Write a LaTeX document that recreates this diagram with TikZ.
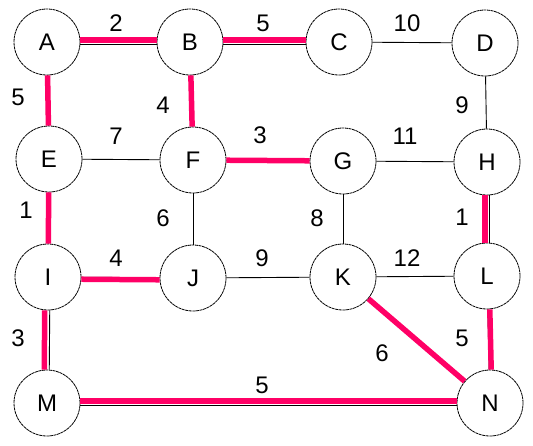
\documentclass[tikz,border=0pt]{standalone}
\usepackage{fontspec}
\setmainfont{Liberation Sans}
\definecolor{mstpink}{RGB}{255,0,102}
\tikzset{
  vertex/.style={circle,draw=black,line width=0.8pt,dash pattern=on 3pt off 0.6pt,
    minimum size=66pt,inner sep=0pt,font=\fontsize{24}{28}\selectfont},
  wt/.style={inner sep=0pt,font=\fontsize{24}{28}\selectfont},
  edge/.style={draw=black,line width=0.9pt},
  mst/.style={draw=mstpink,line width=5.5pt}
}
\begin{document}
\begin{tikzpicture}[x=1pt,y=-1pt,line cap=butt]
  \useasboundingbox (0,0) rectangle (533,445);
  % vertices
  \node[vertex] (A) at (47,42) {A};
  \node[vertex] (B) at (190,42) {B};
  \node[vertex] (C) at (339,42) {C};
  \node[vertex] (D) at (485,43) {D};
  \node[vertex] (E) at (49,159) {E};
  \node[vertex] (F) at (193,160) {F};
  \node[vertex] (G) at (343,161) {G};
  \node[vertex] (H) at (487,162) {H};
  \node[vertex] (I) at (48,277) {I};
  \node[vertex] (J) at (193,278) {J};
  \node[vertex] (K) at (343,277) {K};
  \node[vertex] (L) at (487,276) {L};
  \node[vertex] (M) at (47,403) {M};
  \node[vertex] (N) at (490,403) {N};
  % all edges
  \draw[edge,transform canvas={yshift=-2pt}] (A) -- (B);
  \draw[edge,transform canvas={yshift=-2pt}] (B) -- (C);
  \draw[edge] (C) -- (D);
  \draw[edge] (A) -- (E);
  \draw[edge] (B) -- (F);
  \draw[edge] (D) -- (H);
  \draw[edge] (E) -- (F);
  \draw[edge] (F) -- (G);
  \draw[edge] (G) -- (H);
  \draw[edge] (E) -- (I);
  \draw[edge] (F) -- (J);
  \draw[edge] (G) -- (K);
  \draw[edge,transform canvas={xshift=2pt}] (H) -- (L);
  \draw[edge] (I) -- (J);
  \draw[edge] (J) -- (K);
  \draw[edge] (K) -- (L);
  \draw[edge,transform canvas={xshift=2pt}] (I) -- (M);
  \draw[edge] (K) -- (N);
  \draw[edge] (L) -- (N);
  \draw[edge,transform canvas={yshift=-2pt}] (M) -- (N);
  % spanning tree
  \draw[mst,transform canvas={yshift=2pt}] (A) -- (B);
  \draw[mst,transform canvas={yshift=2pt}] (B) -- (C);
  \draw[mst] (A) -- (E);
  \draw[mst] (B) -- (F);
  \draw[mst] (F) -- (G);
  \draw[mst] (E) -- (I);
  \draw[mst,transform canvas={xshift=-2pt}] (H) -- (L);
  \draw[mst,transform canvas={yshift=-2pt}] (I) -- (J);
  \draw[mst,transform canvas={xshift=-3pt}] (I) -- (M);
  \draw[mst] (K) -- (N);
  \draw[mst,transform canvas={xshift=2pt}] (L) -- (N);
  \draw[mst,transform canvas={yshift=2pt}] (M) -- (N);
  % weights
  \node[wt] (wAB) at (116,23) {2};
  \node[wt] (wBC) at (263,23) {5};
  \node[wt] (wCD) at (407,23) {10};
  \node[wt] (wAE) at (18,97) {5};
  \node[wt] (wBF) at (163,105) {4};
  \node[wt] (wDH) at (462,105) {9};
  \node[wt] (wEF) at (116,136) {7};
  \node[wt] (wFG) at (260,135) {3};
  \node[wt] (wGH) at (405,136) {11};
  \node[wt] (wEI) at (26,210) {1};
  \node[wt] (wFJ) at (163,218) {6};
  \node[wt] (wGK) at (317,218) {8};
  \node[wt] (wHL) at (462,217) {1};
  \node[wt] (wIJ) at (116,258) {4};
  \node[wt] (wJK) at (262,258) {9};
  \node[wt] (wKL) at (407,258) {12};
  \node[wt] (wIM) at (18,338) {3};
  \node[wt] (wKN) at (382,353) {6};
  \node[wt] (wLN) at (462,338) {5};
  \node[wt] (wMN) at (262,385) {5};
\end{tikzpicture}
\end{document}
